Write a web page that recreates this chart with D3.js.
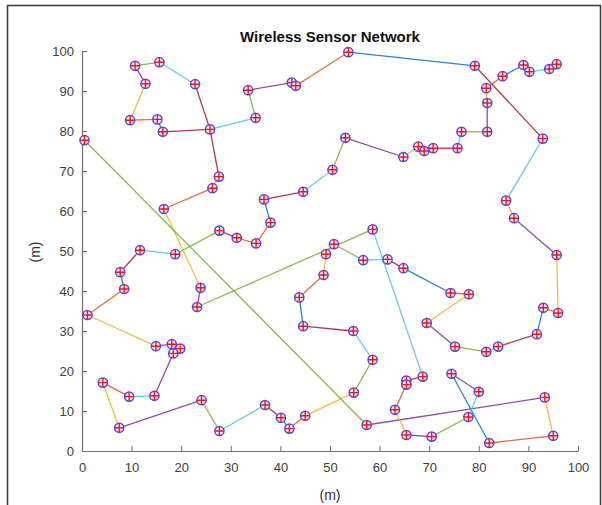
<!DOCTYPE html>
<html><head><meta charset="utf-8">
<script src="https://cdn.jsdelivr.net/npm/d3@7"></script>
<style>body{margin:0;background:#fff}svg{display:block}text{font-family:"Liberation Sans",Arial,sans-serif}</style>
</head><body><svg id="c" width="602" height="505"></svg>
<script>
// Sensor node coordinates (m)
const nodeX = [10.7,15.6,12.8,22.8,9.7,15.2,16.3,25.8,0.5,27.6,33.5,42.3,43.1,53.7,35.0,53.1,64.8,67.8,50.5,79.2,84.8,89.0,90.2,94.2,95.7,81.5,81.7,81.7,76.5,75.7,70.8,69.0,92.9,26.3,16.5,27.7,31.2,11.7,18.8,7.7,8.5,23.9,23.2,1.1,44.6,36.7,38.0,35.1,58.6,50.8,49.2,56.7,61.6,64.8,48.7,43.8,85.5,87.1,95.7,74.3,78.0,93.0,96.0,69.5,75.2,81.5,83.9,91.7,68.7,74.5,80.0,93.3,77.9,95.0,82.1,70.5,44.6,54.7,58.6,54.8,36.9,40.1,41.8,45.0,57.4,65.4,65.4,63.1,65.4,14.9,18.1,19.8,18.4,4.2,9.5,14.6,7.5,24.1,27.7];
const nodeY = [96.3,97.2,91.8,91.7,82.7,82.9,79.8,80.4,77.7,68.6,90.2,92.1,91.3,99.7,83.3,78.3,73.5,76.1,70.3,96.3,93.7,96.5,94.8,95.5,96.7,90.7,87.0,79.8,79.8,75.7,75.7,75.0,78.1,65.7,60.5,55.1,53.3,50.2,49.2,44.7,40.5,40.8,36.0,34.0,64.8,62.9,57.1,51.9,55.4,51.7,49.2,47.7,47.9,45.7,44.0,38.4,62.6,58.2,49.0,39.5,39.2,35.8,34.5,32.0,26.1,24.8,26.1,29.2,18.6,19.3,14.8,13.4,8.5,3.8,2.0,3.6,31.2,30.0,22.8,14.6,11.5,8.3,5.6,8.8,6.5,17.6,16.6,10.3,4.0,26.2,26.7,25.6,24.4,17.1,13.6,13.8,5.8,12.7,5.0];
// Links: [from, to, plot order index]
const links = [[0,1,4],[0,2,3],[2,4,2],[4,5,1],[5,6,0],[6,7,6],[1,3,5],[3,7,6],[7,9,6],[7,14,5],[14,10,4],[10,11,3],[11,12,2],[12,13,1],[13,19,0],[19,32,6],[20,25,1],[20,21,0],[21,22,1],[22,23,5],[23,24,4],[25,26,2],[26,27,3],[27,28,4],[28,29,5],[29,30,6],[30,31,0],[31,17,1],[17,16,2],[15,16,3],[15,18,4],[18,44,5],[44,45,6],[45,46,0],[46,47,1],[47,36,1],[35,36,3],[35,38,4],[37,38,5],[37,39,6],[39,40,0],[40,43,1],[43,89,2],[89,90,0],[90,91,1],[91,92,6],[92,95,3],[95,94,5],[94,93,1],[93,96,2],[96,97,3],[97,98,4],[98,80,5],[80,81,6],[81,82,0],[82,83,1],[83,79,2],[79,78,4],[78,77,5],[77,76,6],[76,55,0],[55,54,1],[54,50,2],[50,49,1],[49,51,4],[51,52,5],[52,53,6],[53,59,0],[59,60,1],[60,63,2],[63,64,3],[64,65,4],[65,66,5],[66,67,6],[67,61,0],[61,62,1],[62,58,2],[58,57,3],[57,56,2],[56,32,5],[42,48,4],[41,42,3],[34,41,2],[33,34,1],[9,33,2],[8,84,4],[84,71,3],[71,73,2],[73,74,1],[74,69,0],[69,70,3],[70,72,5],[72,75,4],[75,88,3],[88,87,2],[87,86,1],[85,86,0],[85,68,6],[68,48,5]];
const xTicks = [0,10,20,30,40,50,60,70,80,90,100];
const yTicks = [0,10,20,30,40,50,60,70,80,90,100];
const titleText = "Wireless Sensor Network";
const xLabel = "(m)", yLabel = "(m)";
const lineColors = ["#0072BD","#D95319","#EDB120","#7E2F8E","#77AC30","#4DBEEE","#A2142F"];

const svg = d3.select("#c");
svg.append("rect").attr("x",7.5).attr("y",5.5).attr("width",593).attr("height",520)
  .attr("fill","none").attr("stroke","#3a3a3a").attr("stroke-width",1.5);

const x = d3.scaleLinear().domain([0,100]).range([82,578]);
const y = d3.scaleLinear().domain([0,100]).range([451,51]);
const color = d3.scaleOrdinal().domain(d3.range(7)).range(lineColors);

const xa = svg.append("g").attr("transform","translate(0,451)")
  .call(d3.axisBottom(x).tickValues(xTicks).tickSizeInner(-5).tickSizeOuter(0).tickPadding(12));
const ya = svg.append("g").attr("transform","translate(82,0)")
  .call(d3.axisLeft(y).tickValues(yTicks).tickSizeInner(-5).tickSizeOuter(0).tickPadding(8));
[xa,ya].forEach(a=>{
  a.select(".domain").attr("stroke","#6e6e6e").attr("stroke-width",1.2);
  a.selectAll(".tick line").attr("stroke","#6e6e6e");
  a.selectAll("text").attr("fill","#404040").style("font-size","13px").style("font-family","'Liberation Sans',Arial,sans-serif");
});

svg.append("g").selectAll("line").data(links).join("line")
  .attr("x1",d=>x(nodeX[d[0]])).attr("y1",d=>y(nodeY[d[0]]))
  .attr("x2",d=>x(nodeX[d[1]])).attr("y2",d=>y(nodeY[d[1]]))
  .attr("stroke",d=>color(d[2])).attr("stroke-width",1.3).attr("stroke-opacity",0.85);

const nodes = d3.range(nodeX.length);
const m = svg.append("g").selectAll("g").data(nodes).join("g")
  .attr("transform",i=>`translate(${x(nodeX[i])},${y(nodeY[i])})`);
m.append("circle").attr("r",4.6).attr("fill","#f4eaf8").attr("stroke","#5b45d6").attr("stroke-width",1.5);
m.append("path").attr("d","M-4.2,0H4.2M0,-4.2V4.2").attr("stroke","#ff1010").attr("stroke-width",1.4);

svg.append("text").attr("x",330).attr("y",42).attr("text-anchor","middle")
  .style("font-size","15px").style("font-weight","bold").attr("fill","#111").text(titleText);
svg.append("text").attr("x",330).attr("y",500).attr("text-anchor","middle")
  .style("font-size","14px").attr("fill","#333").text(xLabel);
svg.append("text").attr("transform","translate(40,252) rotate(-90)").attr("text-anchor","middle")
  .style("font-size","14px").attr("fill","#333").text(yLabel);
</script></body></html>
